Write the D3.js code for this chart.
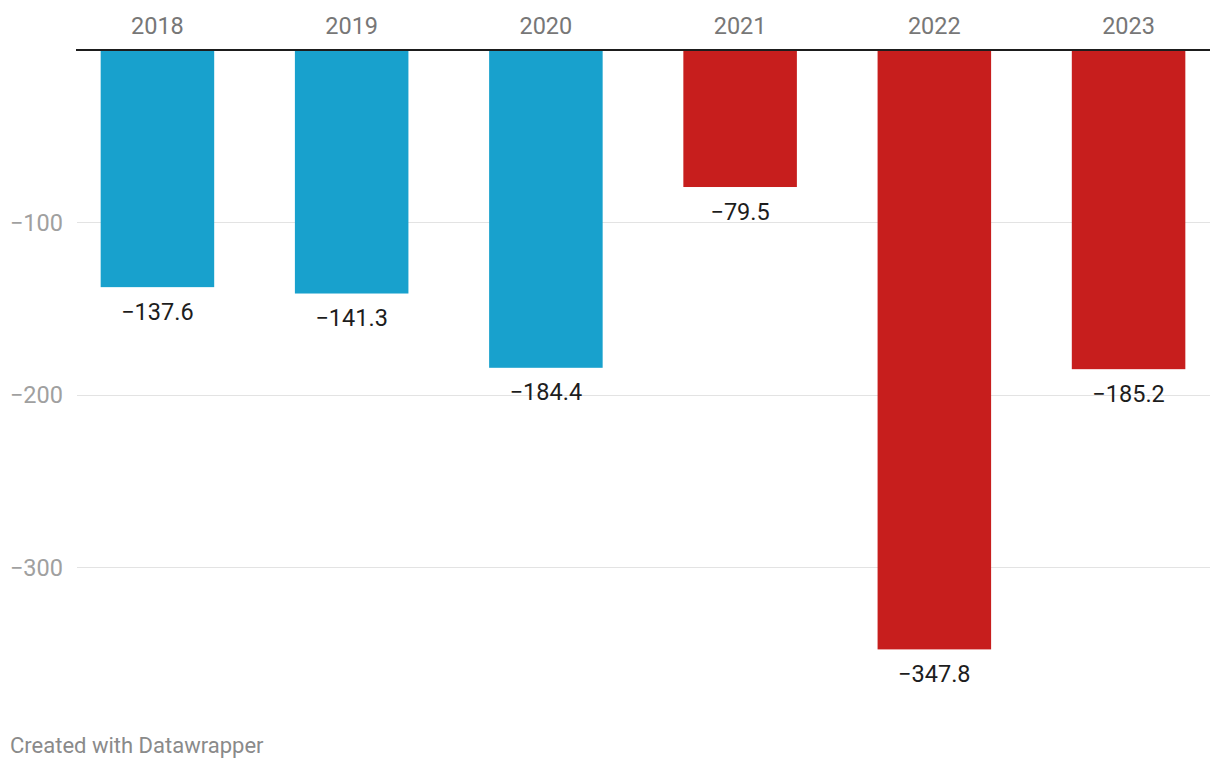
<!DOCTYPE html>
<html>
<head>
<meta charset="utf-8">
<script src="https://cdn.jsdelivr.net/npm/d3@7"></script>
<style>
  html, body { margin: 0; padding: 0; background: #fff; }
  svg text { font-family: Roboto, "Noto Sans", sans-serif; }
</style>
</head>
<body>
<svg id="chart" width="1220" height="770"></svg>
<script>
const years = ["2018", "2019", "2020", "2021", "2022", "2023"];
const values = [-137.6, -141.3, -184.4, -79.5, -347.8, -185.2];
const barColors = ["#18a1cd", "#18a1cd", "#18a1cd", "#c71e1d", "#c71e1d", "#c71e1d"];
const yTicks = [-100, -200, -300];
const footerText = "Created with Datawrapper";

const svg = d3.select("#chart");
const left = 76, right = 1210;
const y = d3.scaleLinear().domain([0, -347.8]).range([50, 649.4]);
const x = d3.scaleBand().domain(years).range([left, right]).paddingInner(0.4155).paddingOuter(0.127);

// gridlines
const grid = svg.append("g");
grid.selectAll("line").data(yTicks).join("line")
  .attr("x1", left + 1).attr("x2", right)
  .attr("y1", d => Math.round(y(d)) + 0.5).attr("y2", d => Math.round(y(d)) + 0.5)
  .attr("stroke", "#e3e3e3").attr("stroke-width", 1);
grid.selectAll("text").data(yTicks).join("text")
  .attr("x", 63).attr("y", d => y(d) + 8.5)
  .attr("text-anchor", "end")
  .attr("fill", "#a0a0a0").attr("font-size", 23.5)
  .text(d => "\u2212" + Math.abs(d));

// bars
svg.append("g").selectAll("rect").data(values).join("rect")
  .attr("x", (d, i) => x(years[i]))
  .attr("width", x.bandwidth())
  .attr("y", y(0))
  .attr("height", d => y(d) - y(0))
  .attr("fill", (d, i) => barColors[i]);

// value labels
svg.append("g").selectAll("text").data(values).join("text")
  .attr("x", (d, i) => x(years[i]) + x.bandwidth() / 2)
  .attr("y", d => y(d) + 32.5)
  .attr("text-anchor", "middle")
  .attr("fill", "#1d1d1d").attr("font-size", 23.5)
  .text(d => "\u2212" + Math.abs(d).toFixed(1));

// zero axis
svg.append("line")
  .attr("x1", left).attr("x2", right)
  .attr("y1", y(0)).attr("y2", y(0))
  .attr("stroke", "#1d1d1d").attr("stroke-width", 2);

// year labels
svg.append("g").selectAll("text").data(years).join("text")
  .attr("x", d => x(d) + x.bandwidth() / 2)
  .attr("y", 34)
  .attr("text-anchor", "middle")
  .attr("fill", "#777777").attr("font-size", 23.5)
  .text(d => d);

// footer
svg.append("text")
  .attr("x", 10).attr("y", 753)
  .attr("fill", "#8a8a8a").attr("font-size", 22)
  .text(footerText);
</script>
</body>
</html>
